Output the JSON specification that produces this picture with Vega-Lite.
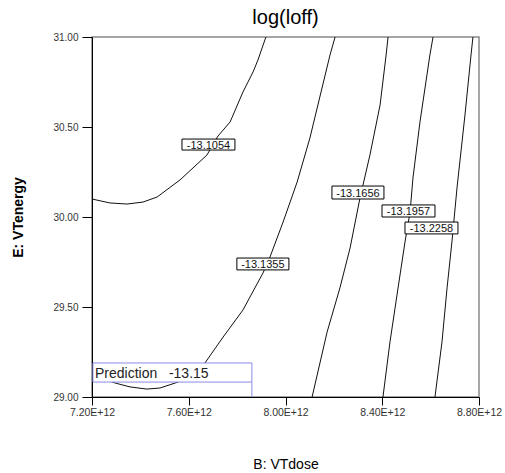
{
  "$schema": "https://vega.github.io/schema/vega-lite/v6.json",
  "autosize": "none",
  "padding": {"left": 92, "top": 37, "right": 26, "bottom": 76},
  "width": 387,
  "height": 360,
  "background": "white",
  "config": {
    "font": "Liberation Sans",
    "view": {"stroke": "#888", "strokeWidth": 1.5},
    "axis": {"grid": false, "domainColor": "#000", "tickColor": "#000", "labelColor": "#333", "labelFontSize": 10, "labelFlush": false, "labelFont": "Liberation Sans", "titleFont": "Liberation Sans", "titleColor": "#000"}
  },
  "title": {"text": "log(loff)", "fontSize": 20, "fontWeight": "normal", "color": "#000", "offset": 4},
  "datasets": {
    "contours": [
      {"level": "-13.1054", "i": 1, "dose": 7.200e12, "energy": 30.100},
      {"level": "-13.1054", "i": 2, "dose": 7.274e12, "energy": 30.078},
      {"level": "-13.1054", "i": 3, "dose": 7.345e12, "energy": 30.072},
      {"level": "-13.1054", "i": 4, "dose": 7.411e12, "energy": 30.083},
      {"level": "-13.1054", "i": 5, "dose": 7.469e12, "energy": 30.111},
      {"level": "-13.1054", "i": 6, "dose": 7.564e12, "energy": 30.206},
      {"level": "-13.1054", "i": 7, "dose": 7.675e12, "energy": 30.344},
      {"level": "-13.1054", "i": 8, "dose": 7.721e12, "energy": 30.450},
      {"level": "-13.1054", "i": 9, "dose": 7.771e12, "energy": 30.528},
      {"level": "-13.1054", "i": 10, "dose": 7.824e12, "energy": 30.694},
      {"level": "-13.1054", "i": 11, "dose": 7.866e12, "energy": 30.806},
      {"level": "-13.1054", "i": 12, "dose": 7.886e12, "energy": 30.872},
      {"level": "-13.1054", "i": 13, "dose": 7.919e12, "energy": 31.000},
      {"level": "-13.1355", "i": 1, "dose": 8.205e12, "energy": 31.000},
      {"level": "-13.1355", "i": 2, "dose": 8.184e12, "energy": 30.900},
      {"level": "-13.1355", "i": 3, "dose": 8.122e12, "energy": 30.556},
      {"level": "-13.1355", "i": 4, "dose": 8.101e12, "energy": 30.439},
      {"level": "-13.1355", "i": 5, "dose": 8.048e12, "energy": 30.194},
      {"level": "-13.1355", "i": 6, "dose": 7.990e12, "energy": 29.972},
      {"level": "-13.1355", "i": 7, "dose": 7.936e12, "energy": 29.778},
      {"level": "-13.1355", "i": 8, "dose": 7.907e12, "energy": 29.689},
      {"level": "-13.1355", "i": 9, "dose": 7.824e12, "energy": 29.483},
      {"level": "-13.1355", "i": 10, "dose": 7.742e12, "energy": 29.333},
      {"level": "-13.1355", "i": 11, "dose": 7.667e12, "energy": 29.189},
      {"level": "-13.1355", "i": 12, "dose": 7.605e12, "energy": 29.128},
      {"level": "-13.1355", "i": 13, "dose": 7.556e12, "energy": 29.083},
      {"level": "-13.1355", "i": 14, "dose": 7.481e12, "energy": 29.050},
      {"level": "-13.1355", "i": 15, "dose": 7.427e12, "energy": 29.044},
      {"level": "-13.1355", "i": 16, "dose": 7.357e12, "energy": 29.056},
      {"level": "-13.1355", "i": 17, "dose": 7.295e12, "energy": 29.078},
      {"level": "-13.1355", "i": 18, "dose": 7.233e12, "energy": 29.106},
      {"level": "-13.1355", "i": 19, "dose": 7.200e12, "energy": 29.128},
      {"level": "-13.1656", "i": 1, "dose": 8.424e12, "energy": 31.000},
      {"level": "-13.1656", "i": 2, "dose": 8.416e12, "energy": 30.900},
      {"level": "-13.1656", "i": 3, "dose": 8.391e12, "energy": 30.622},
      {"level": "-13.1656", "i": 4, "dose": 8.349e12, "energy": 30.344},
      {"level": "-13.1656", "i": 5, "dose": 8.308e12, "energy": 30.106},
      {"level": "-13.1656", "i": 6, "dose": 8.267e12, "energy": 29.828},
      {"level": "-13.1656", "i": 7, "dose": 8.225e12, "energy": 29.606},
      {"level": "-13.1656", "i": 8, "dose": 8.172e12, "energy": 29.361},
      {"level": "-13.1656", "i": 9, "dose": 8.110e12, "energy": 29.000},
      {"level": "-13.1957", "i": 1, "dose": 8.610e12, "energy": 31.000},
      {"level": "-13.1957", "i": 2, "dose": 8.597e12, "energy": 30.900},
      {"level": "-13.1957", "i": 3, "dose": 8.556e12, "energy": 30.528},
      {"level": "-13.1957", "i": 4, "dose": 8.527e12, "energy": 30.217},
      {"level": "-13.1957", "i": 5, "dose": 8.515e12, "energy": 30.028},
      {"level": "-13.1957", "i": 6, "dose": 8.494e12, "energy": 29.861},
      {"level": "-13.1957", "i": 7, "dose": 8.461e12, "energy": 29.567},
      {"level": "-13.1957", "i": 8, "dose": 8.432e12, "energy": 29.306},
      {"level": "-13.1957", "i": 9, "dose": 8.403e12, "energy": 29.000},
      {"level": "-13.2258", "i": 1, "dose": 8.775e12, "energy": 31.000},
      {"level": "-13.2258", "i": 2, "dose": 8.767e12, "energy": 30.900},
      {"level": "-13.2258", "i": 3, "dose": 8.742e12, "energy": 30.567},
      {"level": "-13.2258", "i": 4, "dose": 8.709e12, "energy": 30.161},
      {"level": "-13.2258", "i": 5, "dose": 8.688e12, "energy": 29.861},
      {"level": "-13.2258", "i": 6, "dose": 8.668e12, "energy": 29.606},
      {"level": "-13.2258", "i": 7, "dose": 8.647e12, "energy": 29.306},
      {"level": "-13.2258", "i": 8, "dose": 8.618e12, "energy": 29.000}
    ],
    "labels": [
      {"label": "-13.1054", "x1": 7.572e12, "x2": 7.791e12, "y1": 30.372, "y2": 30.433},
      {"label": "-13.1355", "x1": 7.799e12, "x2": 8.014e12, "y1": 29.706, "y2": 29.772},
      {"label": "-13.1656", "x1": 8.192e12, "x2": 8.407e12, "y1": 30.100, "y2": 30.172},
      {"label": "-13.1957", "x1": 8.399e12, "x2": 8.618e12, "y1": 30.000, "y2": 30.067},
      {"label": "-13.2258", "x1": 8.494e12, "x2": 8.713e12, "y1": 29.906, "y2": 29.972}
    ],
    "prediction": [
      {"label": "Prediction\u00a0\u00a0\u00a0-13.15", "x1": 7.204e12, "x2": 7.861e12, "y1": 29.083, "y2": 29.189, "ybase": 29.0}
    ]
  },
  "encoding": {
    "x": {"field": "dose", "type": "quantitative", "scale": {"domain": [7.2e12, 8.8e12], "nice": false, "zero": false},
      "axis": {"title": "B: VTdose", "titleFontSize": 14, "titleFontWeight": "normal", "titlePadding": 40, "values": [7.2e12, 7.6e12, 8.0e12, 8.4e12, 8.8e12], "labelExpr": "format(datum.value / 1e12, '.2f') + 'E+12'", "labelFontSize": 10.5, "tickSize": 8, "labelPadding": 2}},
    "y": {"field": "energy", "type": "quantitative", "scale": {"domain": [29, 31], "nice": false, "zero": false},
      "axis": {"title": "E: VTenergy", "titleFontSize": 14, "titleFontWeight": "bold", "titlePadding": 27, "values": [29, 29.5, 30, 30.5, 31], "format": ".2f", "tickSize": 10, "labelPadding": 4}}
  },
  "layer": [
    {
      "data": {"name": "contours"},
      "mark": {"type": "line", "color": "#111", "strokeWidth": 1},
      "encoding": {"detail": {"field": "level"}, "order": {"field": "i", "type": "quantitative"}}
    },
    {
      "data": {"values": [{"top": 31}]},
      "mark": {"type": "rule", "color": "#000", "strokeWidth": 1},
      "encoding": {"y": {"field": "top", "type": "quantitative"}, "x": {"datum": 7.2e12}, "x2": {"datum": 8.8e12}}
    },
    {
      "data": {"name": "labels"},
      "mark": {"type": "rect", "fill": "white", "stroke": "#000", "strokeWidth": 1},
      "encoding": {"x": {"field": "x1", "type": "quantitative"}, "x2": {"field": "x2"}, "y": {"field": "y1", "type": "quantitative"}, "y2": {"field": "y2"}}
    },
    {
      "data": {"name": "labels"},
      "transform": [{"calculate": "(datum.x1 + datum.x2) / 2", "as": "xc"}, {"calculate": "(datum.y1 + datum.y2) / 2", "as": "yc"}],
      "mark": {"type": "text", "fontSize": 11, "color": "#111", "align": "center", "baseline": "middle", "dy": 1},
      "encoding": {"x": {"field": "xc", "type": "quantitative"}, "y": {"field": "yc", "type": "quantitative"}, "text": {"field": "label"}}
    },
    {
      "data": {"name": "prediction"},
      "mark": {"type": "rect", "fill": "white", "stroke": "#8a8ae8", "strokeWidth": 1},
      "encoding": {"x": {"field": "x1", "type": "quantitative"}, "x2": {"field": "x2"}, "y": {"field": "y1", "type": "quantitative"}, "y2": {"field": "y2"}}
    },
    {
      "data": {"name": "prediction"},
      "mark": {"type": "rule", "color": "#8a8ae8", "strokeWidth": 1},
      "encoding": {"x": {"field": "x2", "type": "quantitative"}, "y": {"field": "ybase", "type": "quantitative"}, "y2": {"field": "y1"}}
    },
    {
      "data": {"name": "prediction"},
      "transform": [{"calculate": "(datum.y1 + datum.y2) / 2", "as": "yc"}],
      "mark": {"type": "text", "fontSize": 14, "color": "#222", "align": "left", "baseline": "middle", "dx": 2, "dy": 1},
      "encoding": {"x": {"field": "x1", "type": "quantitative"}, "y": {"field": "yc", "type": "quantitative"}, "text": {"field": "label"}}
    }
  ]
}
